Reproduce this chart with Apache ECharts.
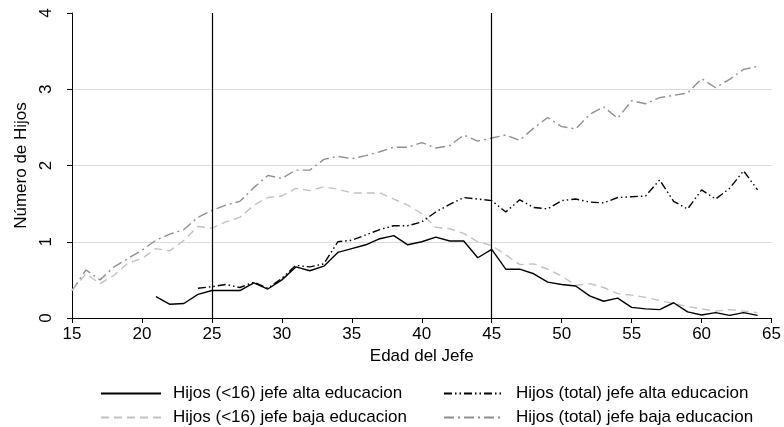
<!DOCTYPE html>
<html>
<head>
<meta charset="utf-8">
<script src="https://cdn.jsdelivr.net/npm/echarts@6/dist/echarts.min.js"></script>
<style>html,body{margin:0;padding:0;background:#fff;}#c{width:784px;height:427px;}</style>
</head>
<body>
<div id="c"></div>
<script>
// Ages 15..64
var ages = [15,16,17,18,19,20,21,22,23,24,25,26,27,28,29,30,31,32,33,34,35,36,37,38,39,40,41,42,43,44,45,46,47,48,49,50,51,52,53,54,55,56,57,58,59,60,61,62,63,64];
// Hijos (<16) jefe alta educacion (from age 21)
var altaMenores = [null,null,null,null,null,null,0.28,0.18,0.19,0.31,0.36,0.36,0.36,0.46,0.38,0.50,0.67,0.62,0.68,0.86,0.91,0.96,1.04,1.08,0.96,1.00,1.06,1.01,1.01,0.79,0.90,0.64,0.64,0.58,0.47,0.44,0.42,0.29,0.22,0.26,0.14,0.12,0.11,0.20,0.08,0.04,0.07,0.035,0.07,0.035];
// Hijos (total) jefe alta educacion (from age 24)
var altaTotal = [null,null,null,null,null,null,null,null,null,0.39,0.41,0.44,0.40,0.47,0.39,0.52,0.69,0.67,0.71,1.00,1.02,1.09,1.16,1.21,1.21,1.26,1.39,1.49,1.58,1.56,1.54,1.39,1.55,1.45,1.43,1.54,1.56,1.52,1.51,1.58,1.59,1.60,1.81,1.53,1.43,1.68,1.56,1.70,1.93,1.68];
// Hijos (<16) jefe baja educacion
var bajaMenores = [0.36,0.58,0.45,0.56,0.72,0.78,0.91,0.88,1.02,1.20,1.18,1.26,1.32,1.48,1.58,1.60,1.70,1.67,1.72,1.69,1.64,1.64,1.64,1.56,1.48,1.37,1.19,1.17,1.11,1.00,0.95,0.83,0.70,0.71,0.64,0.55,0.43,0.45,0.40,0.32,0.30,0.27,0.23,0.19,0.15,0.12,0.09,0.11,0.09,0.07];
// Hijos (total) jefe baja educacion
var bajaTotal = [0.36,0.63,0.50,0.67,0.78,0.89,1.02,1.10,1.16,1.32,1.41,1.48,1.53,1.71,1.87,1.83,1.94,1.94,2.08,2.12,2.09,2.13,2.18,2.24,2.24,2.30,2.23,2.26,2.40,2.32,2.36,2.40,2.33,2.49,2.63,2.51,2.48,2.67,2.77,2.62,2.85,2.81,2.89,2.92,2.95,3.14,3.02,3.13,3.26,3.30];
var names = ['Hijos (<16) jefe alta educacion','Hijos (total) jefe alta educacion','Hijos (<16) jefe baja educacion','Hijos (total) jefe baja educacion'];
var cutAges = [25, 45];
var xTicks = {min: 15, max: 65, interval: 5};
var yTicks = {min: 0, max: 4, interval: 1};

function pairs(vals){
  var out = [];
  for (var i = 0; i < ages.length; i++) { if (vals[i] !== null) out.push([ages[i], vals[i]]); }
  return out;
}
var FONT = 'Liberation Sans, Arial, sans-serif';
var FS = 17;
var chart = echarts.init(document.getElementById('c'), null, {renderer: 'canvas'});
function legendAt(name, left, top){
  return {data: [name], left: left, top: top, itemWidth: 60, itemHeight: 10, itemGap: 12, padding: 0,
    itemStyle: {opacity: 0},
    textStyle: {fontFamily: FONT, fontSize: FS, color: '#000', padding: [0, 0, 0, 7]}, selectedMode: false};
}
var option = {
  animation: false,
  backgroundColor: '#fff',
  grid: {left: 72, right: 12, top: 13, bottom: 109, containLabel: false},
  legend: [
    legendAt(names[0], 100, 385),
    legendAt(names[1], 443, 385),
    legendAt(names[2], 100, 409),
    legendAt(names[3], 443, 409)
  ],
  xAxis: {
    type: 'value', min: xTicks.min, max: xTicks.max, interval: xTicks.interval,
    name: 'Edad del Jefe', nameLocation: 'middle', nameGap: 30,
    nameTextStyle: {fontFamily: FONT, fontSize: FS, color: '#000'},
    axisLine: {show: true, lineStyle: {color: '#000', width: 1}},
    axisTick: {show: true, length: 5, lineStyle: {color: '#000'}},
    axisLabel: {fontFamily: FONT, fontSize: FS, color: '#000', margin: 8},
    splitLine: {show: false}
  },
  yAxis: {
    type: 'value', min: yTicks.min, max: yTicks.max, interval: yTicks.interval,
    name: 'Número de Hijos', nameLocation: 'middle', nameGap: 41,
    nameTextStyle: {fontFamily: FONT, fontSize: FS, color: '#000'},
    axisLine: {show: true, lineStyle: {color: '#000', width: 1}},
    axisTick: {show: true, length: 5, lineStyle: {color: '#000'}},
    axisLabel: {fontFamily: FONT, fontSize: FS, color: '#000', rotate: 90, margin: 17},
    splitLine: {show: true, showMaxLine: false, showMinLine: false, lineStyle: {color: '#dcdcdc', width: 1}}
  },
  series: [
    {name: names[3], type: 'line', data: pairs(bajaTotal), symbol: 'none', showSymbol: false,
      itemStyle: {color: '#8f8f8f'}, lineStyle: {color: '#8f8f8f', width: 1.4, type: [10, 4, 2, 4]}},
    {name: names[2], type: 'line', data: pairs(bajaMenores), symbol: 'none', showSymbol: false,
      itemStyle: {color: '#c2c2c2'}, lineStyle: {color: '#c2c2c2', width: 1.4, type: [8, 5]}},
    {name: names[1], type: 'line', data: pairs(altaTotal), symbol: 'none', showSymbol: false,
      itemStyle: {color: '#000'}, lineStyle: {color: '#000', width: 1.4, type: [8, 3, 1.5, 3, 1.5, 3]}},
    {name: names[0], type: 'line', data: pairs(altaMenores), symbol: 'none', showSymbol: false,
      itemStyle: {color: '#000'}, lineStyle: {color: '#000', width: 1.4},
      markLine: {silent: true, symbol: 'none', label: {show: false},
        lineStyle: {color: '#000', width: 1.2, type: 'solid'},
        data: cutAges.map(function(a){ return {xAxis: a}; })}}
  ]
};
chart.setOption(option);
</script>
</body>
</html>
